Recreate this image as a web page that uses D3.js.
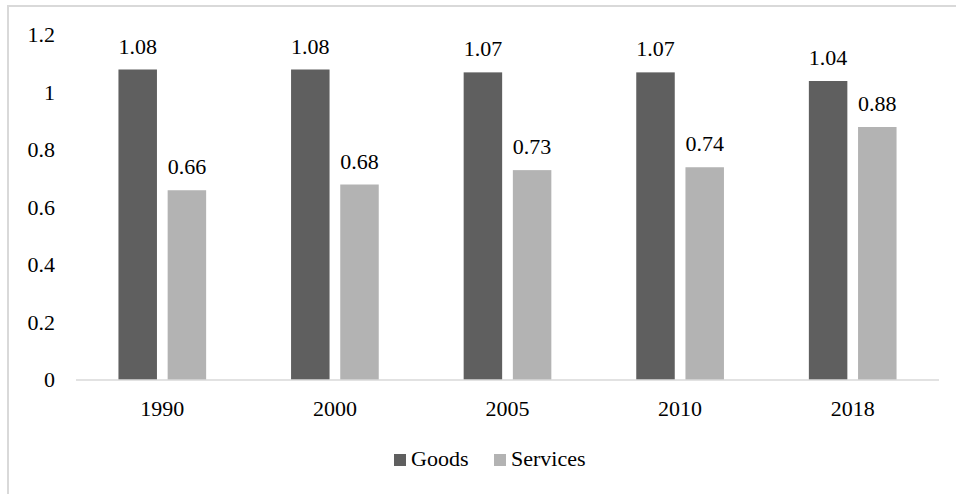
<!DOCTYPE html>
<html>
<head>
<meta charset="utf-8">
<script src="https://cdn.jsdelivr.net/npm/d3@7"></script>
<style>
  html, body { margin: 0; padding: 0; background: #fff; }
  svg { display: block; }
  text { font-family: "Liberation Serif", "Times New Roman", serif; fill: #000; }
</style>
</head>
<body>
<svg id="chart" width="956" height="494"></svg>
<script>
// Ratio values by year for goods and services
const years = ["1990", "2000", "2005", "2010", "2018"];
const seriesNames = ["Goods", "Services"];
const goods = [1.08, 1.08, 1.07, 1.07, 1.04];
const services = [0.66, 0.68, 0.73, 0.74, 0.88];
const yTicks = [0, 0.2, 0.4, 0.6, 0.8, 1, 1.2];
const yTickLabels = ["0", "0.2", "0.4", "0.6", "0.8", "1", "1.2"];
const colors = { Goods: "#5f5f5f", Services: "#b3b3b3" };

const values = { Goods: goods, Services: services };
const svg = d3.select("#chart");
const fontSize = 22;

// Outer frame
svg.append("rect")
  .attr("x", 8).attr("y", 6)
  .attr("width", 1000).attr("height", 600)
  .attr("fill", "none")
  .attr("stroke", "#d9d9d9")
  .attr("stroke-width", 2);

const x0 = d3.scaleBand().domain(years).range([76, 939]).padding(0);
const x1 = d3.scaleBand().domain(seriesNames)
  .range([0, x0.bandwidth()])
  .paddingInner(0.2175)
  .paddingOuter(0.863);
const y = d3.scaleLinear().domain([0, 1.2]).range([380, 35]);

// Y tick labels
svg.append("g").selectAll("text")
  .data(yTicks)
  .join("text")
  .attr("x", 55)
  .attr("y", d => y(d))
  .attr("dy", "0.34em")
  .attr("text-anchor", "end")
  .attr("font-size", fontSize)
  .text((d, i) => yTickLabels[i]);

// Bars
const groups = svg.append("g").selectAll("g")
  .data(years)
  .join("g")
  .attr("transform", d => `translate(${x0(d)},0)`);

groups.selectAll("rect")
  .data((d, i) => seriesNames.map(s => ({ s, v: values[s][i] })))
  .join("rect")
  .attr("x", d => x1(d.s))
  .attr("y", d => y(d.v))
  .attr("width", x1.bandwidth())
  .attr("height", d => y(0) - y(d.v))
  .attr("fill", d => colors[d.s]);

// Value labels
groups.selectAll("text")
  .data((d, i) => seriesNames.map(s => ({ s, v: values[s][i] })))
  .join("text")
  .attr("x", d => x1(d.s) + x1.bandwidth() / 2)
  .attr("y", d => y(d.v) - 16)
  .attr("text-anchor", "middle")
  .attr("font-size", fontSize)
  .text(d => d3.format(".2f")(d.v));

// X axis baseline
svg.append("line")
  .attr("x1", 76).attr("x2", 939)
  .attr("y1", y(0)).attr("y2", y(0))
  .attr("stroke", "#d9d9d9")
  .attr("stroke-width", 1.5);

// X labels
svg.append("g").selectAll("text")
  .data(years)
  .join("text")
  .attr("x", d => x0(d) + x0.bandwidth() / 2)
  .attr("y", 416)
  .attr("text-anchor", "middle")
  .attr("font-size", fontSize)
  .text(d => d);

// Legend
const legendPos = [{ s: "Goods", x: 394 }, { s: "Services", x: 494 }];
const legend = svg.append("g").selectAll("g")
  .data(legendPos)
  .join("g")
  .attr("transform", d => `translate(${d.x},454)`);
legend.append("rect")
  .attr("width", 12).attr("height", 12)
  .attr("fill", d => colors[d.s]);
legend.append("text")
  .attr("x", 17)
  .attr("y", 12)
  .attr("font-size", fontSize)
  .text(d => d.s);
</script>
</body>
</html>
